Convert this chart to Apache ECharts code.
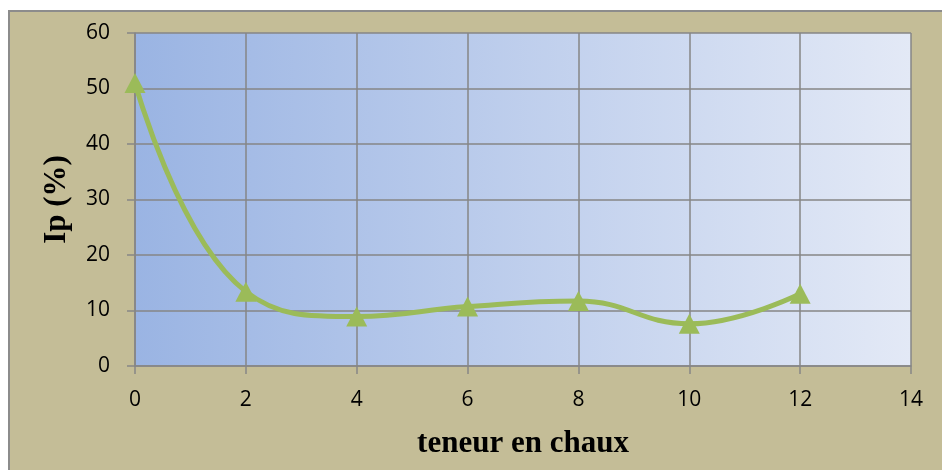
<!DOCTYPE html>
<html>
<head>
    <meta charset="utf-8"/>
    <title>ECharts</title>
    <script src="https://cdn.jsdelivr.net/npm/echarts@6/dist/echarts.min.js"></script>
    <style>
        body { margin: 0; background: #fff; }
        #frame { position: absolute; left: 8px; top: 10px; width: 934px; height: 460px;
                 background: #c4bd97; border-left: 2px solid #8c8c8c; border-top: 2px solid #8c8c8c; box-sizing: border-box; }
        #main { position: absolute; left: 0; top: 0; width: 942px; height: 470px; }
    </style>
</head>
<body>
<div id="frame"></div>
<div id="main"></div>
<script type="text/javascript">
    // teneur en chaux (%) et indice de plasticité
    var chaux = [0, 2, 4, 6, 8, 10, 12];
    var ip = [51, 13.4, 8.9, 10.7, 11.7, 7.6, 13];

    var myChart = echarts.init(document.getElementById("main"));

    var option = {
        backgroundColor: 'transparent',
        grid: {
            left: 135, top: 33, width: 776, height: 333,
            show: true,
            borderWidth: 0,
            backgroundColor: new echarts.graphic.LinearGradient(0, 0, 1, 0, [
                {offset: 0, color: '#9ab4e3'},
                {offset: 1, color: '#e3e9f6'}
            ])
        },
        xAxis: {
            type: 'value',
            min: 0, max: 14, interval: 2,
            name: 'teneur en chaux',
            nameLocation: 'middle',
            nameGap: 62,
            nameTextStyle: {fontFamily: 'Liberation Serif', fontWeight: 'bold', fontSize: 31, color: '#000'},
            axisLine: {show: true, lineStyle: {color: '#868686', width: 1.5}},
            axisTick: {show: true, length: 8, lineStyle: {color: '#868686', width: 1.5}},
            axisLabel: {margin: 24, fontFamily: 'Open Sans', fontSize: 21, color: '#000'},
            splitLine: {show: true, lineStyle: {color: '#868686', width: 1.5}}
        },
        yAxis: {
            type: 'value',
            min: 0, max: 60, interval: 10,
            name: 'Ip (%)',
            nameLocation: 'middle',
            nameGap: 63,
            nameTextStyle: {fontFamily: 'Liberation Serif', fontWeight: 'bold', fontSize: 31, color: '#000'},
            axisLine: {show: true, lineStyle: {color: '#868686', width: 1.5}},
            axisTick: {show: true, length: 8, lineStyle: {color: '#868686', width: 1.5}},
            axisLabel: {margin: 25, fontFamily: 'Open Sans', fontSize: 21, color: '#000'},
            splitLine: {show: true, lineStyle: {color: '#868686', width: 1.5}}
        },
        series: [
            {
                type: 'line',
                data: chaux.map(function (x, i) { return [x, ip[i]]; }),
                smooth: 0.45,
                symbol: 'triangle',
                symbolSize: [21, 20],
                itemStyle: {color: '#9bbb59'},
                lineStyle: {color: '#9bbb59', width: 5}
            }
        ]
    };

    myChart.setOption(option);
</script>
</body>
</html>
